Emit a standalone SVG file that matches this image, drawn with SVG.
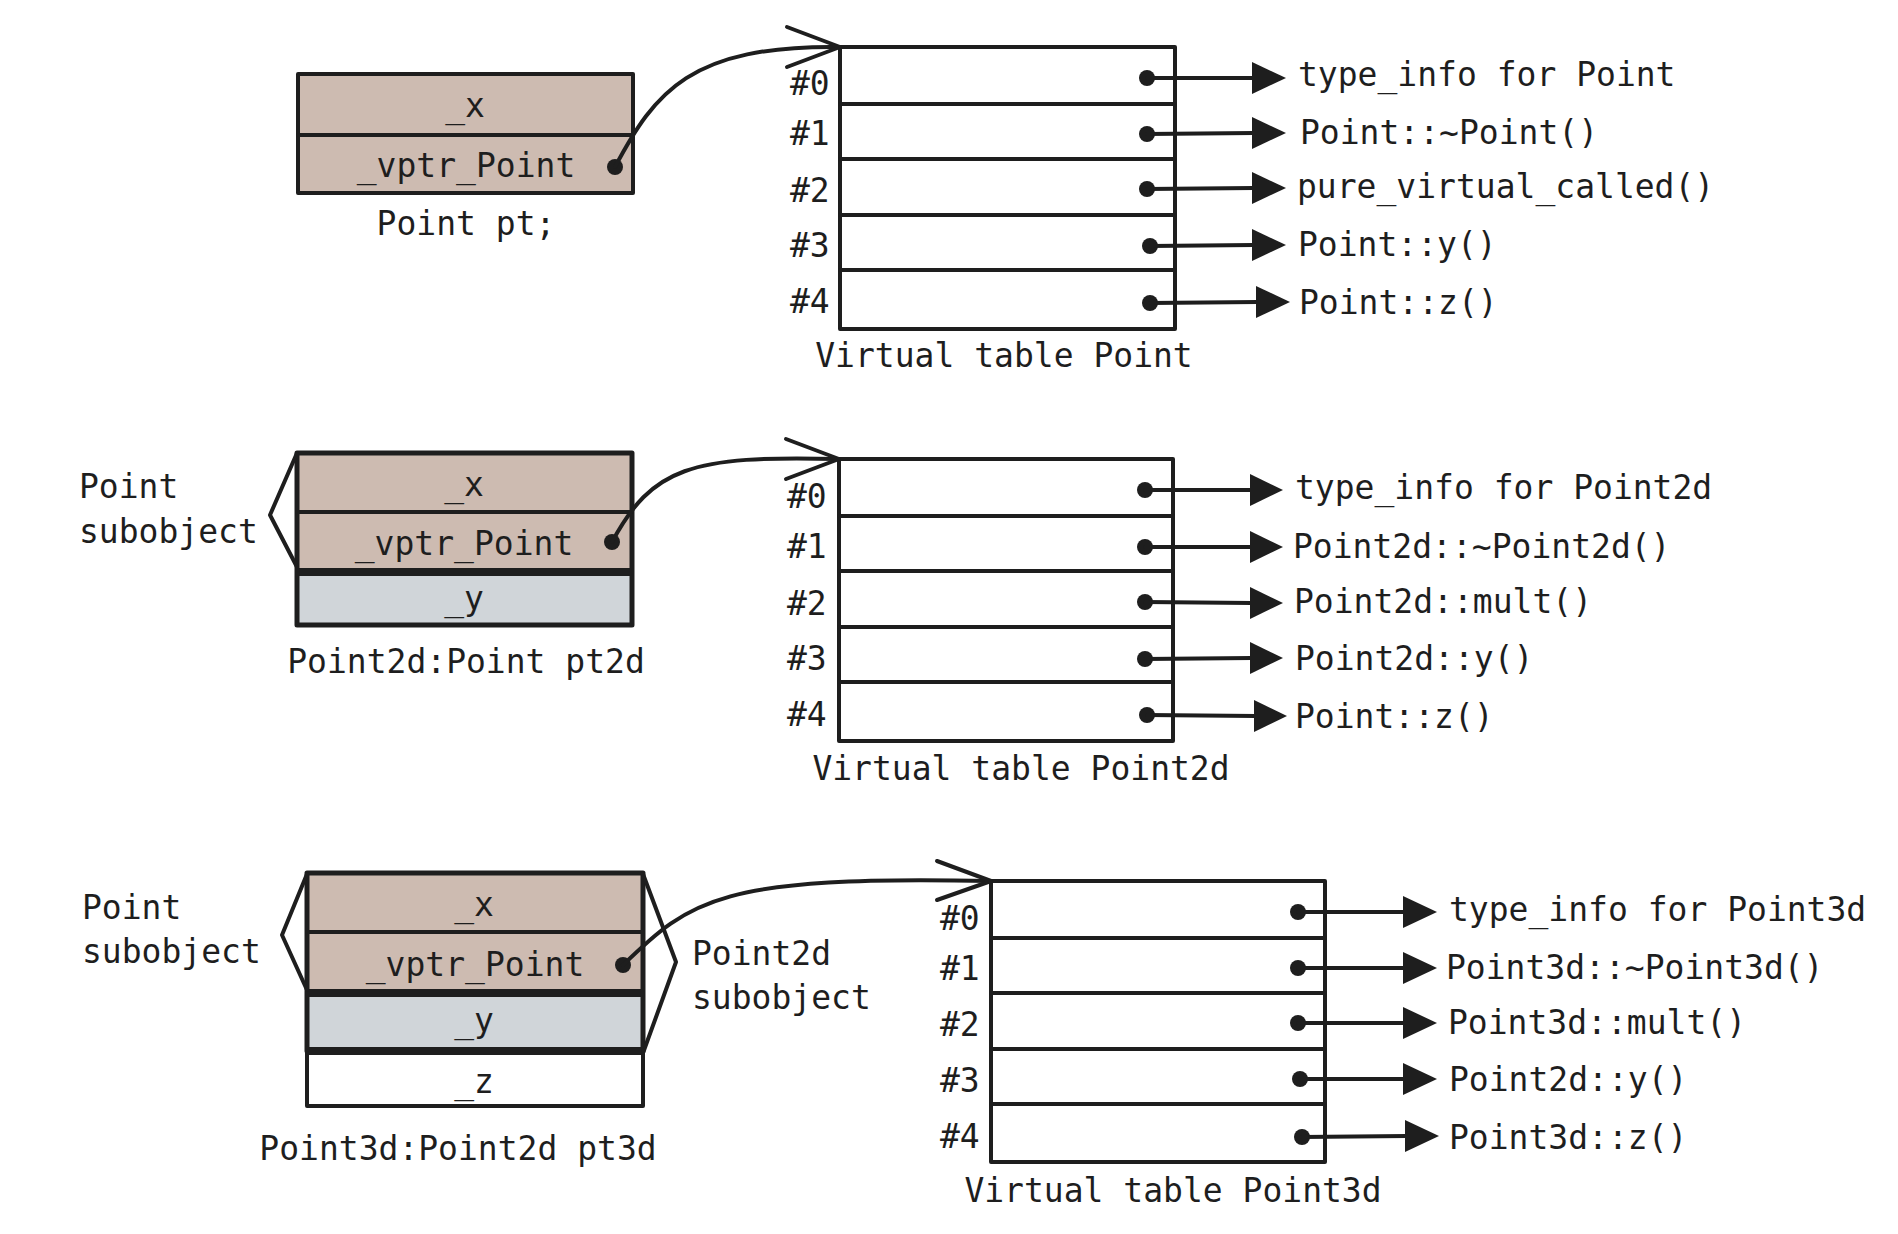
<svg xmlns="http://www.w3.org/2000/svg" width="1898" height="1234" viewBox="0 0 1898 1234">
<defs>
<style>
text{font-family:"DejaVu Sans Mono","Liberation Mono",monospace;font-size:33px;fill:#1e1e1e}
.c{text-anchor:middle}
.ln{stroke:#1e1e1e;stroke-width:4;fill:none;stroke-linecap:round;stroke-linejoin:round}
.thick{stroke:#1e1e1e;stroke-width:8;fill:none}
.br{fill:#cdbbb1}
.gr{fill:#d0d5d9}
.wh{fill:#ffffff}
.dot{fill:#1e1e1e}
.tri{fill:#1e1e1e}
</style>
</defs>
<rect width="1898" height="1234" fill="#ffffff"/>

<!-- Section 1 -->
<g id="obj-point">
<rect x="298" y="74" width="335" height="119" class="br"/>
<rect x="298" y="74" width="335" height="119" class="ln"/>
<line x1="298" y1="135" x2="633" y2="135" class="ln"/>
<text x="465" y="117" class="c">_x</text>
<text x="466" y="177" class="c">_vptr_Point</text>
<text x="466" y="235" class="c">Point pt;</text>
</g>
<g id="vtable-point">
<rect x="840" y="47" width="335" height="282" class="ln"/>
<line x1="840" y1="104" x2="1175" y2="104" class="ln"/>
<line x1="840" y1="159" x2="1175" y2="159" class="ln"/>
<line x1="840" y1="215" x2="1175" y2="215" class="ln"/>
<line x1="840" y1="270" x2="1175" y2="270" class="ln"/>
<text x="790" y="95">#0</text>
<text x="790" y="145">#1</text>
<text x="790" y="202">#2</text>
<text x="790" y="257">#3</text>
<text x="790" y="313">#4</text>
<text x="1004" y="367" class="c">Virtual table Point</text>
</g>
<g id="labels-point">
<text x="1298" y="86">type_info for Point</text>
<text x="1300" y="144">Point::~Point()</text>
<text x="1297" y="198">pure_virtual_called()</text>
<text x="1298" y="256">Point::y()</text>
<text x="1299" y="314">Point::z()</text>
</g>

<!-- Section 2 -->
<g id="obj-point2d">
<rect x="297" y="453" width="335" height="119" class="br"/>
<rect x="297" y="572" width="335" height="53" class="gr"/>
<rect x="297" y="453" width="335" height="172" class="ln" style="stroke-width:5"/>
<line x1="297" y1="512" x2="632" y2="512" class="ln"/>
<line x1="297" y1="572" x2="632" y2="572" class="thick"/>
<text x="464" y="496" class="c">_x</text>
<text x="464" y="555" class="c">_vptr_Point</text>
<text x="464" y="610" class="c">_y</text>
<text x="466" y="673" class="c">Point2d:Point pt2d</text>
</g>
<g id="brace-point-2">
<polyline points="297,453 270,515 297,567" class="ln"/>
<text x="79" y="498">Point</text>
<text x="79" y="543">subobject</text>
</g>
<g id="vtable-point2d">
<rect x="839" y="459" width="334" height="282" class="ln"/>
<line x1="839" y1="516" x2="1173" y2="516" class="ln"/>
<line x1="839" y1="571" x2="1173" y2="571" class="ln"/>
<line x1="839" y1="627" x2="1173" y2="627" class="ln"/>
<line x1="839" y1="682" x2="1173" y2="682" class="ln"/>
<text x="787" y="508">#0</text>
<text x="787" y="558">#1</text>
<text x="787" y="615">#2</text>
<text x="787" y="670">#3</text>
<text x="787" y="726">#4</text>
<text x="1021" y="780" class="c">Virtual table Point2d</text>
</g>
<g id="labels-point2d">
<text x="1295" y="499">type_info for Point2d</text>
<text x="1293" y="558">Point2d::~Point2d()</text>
<text x="1294" y="613">Point2d::mult()</text>
<text x="1295" y="670">Point2d::y()</text>
<text x="1295" y="728">Point::z()</text>
</g>

<!-- Section 3 -->
<g id="obj-point3d">
<rect x="307" y="873" width="336" height="120" class="br"/>
<rect x="307" y="993" width="336" height="58" class="gr"/>
<rect x="307" y="1051" width="336" height="55" class="wh"/>
<rect x="307" y="1051" width="336" height="55" class="ln"/>
<rect x="307" y="873" width="336" height="178" class="ln" style="stroke-width:5"/>
<line x1="307" y1="932" x2="643" y2="932" class="ln"/>
<line x1="307" y1="993" x2="643" y2="993" class="thick"/>
<line x1="307" y1="1051" x2="643" y2="1051" class="thick"/>
<text x="474" y="916" class="c">_x</text>
<text x="475" y="976" class="c">_vptr_Point</text>
<text x="474" y="1032" class="c">_y</text>
<text x="474" y="1093" class="c">_z</text>
<text x="458" y="1160" class="c">Point3d:Point2d pt3d</text>
</g>
<g id="brace-point-3">
<polyline points="307,874 282,935 307,990" class="ln"/>
<text x="82" y="919">Point</text>
<text x="82" y="963">subobject</text>
</g>
<g id="brace-point2d-3">
<polyline points="643,874 676,962 643,1053" class="ln"/>
<text x="692" y="965">Point2d</text>
<text x="692" y="1009">subobject</text>
</g>
<g id="vtable-point3d">
<rect x="991" y="881" width="334" height="281" class="ln"/>
<line x1="991" y1="938" x2="1325" y2="938" class="ln"/>
<line x1="991" y1="993" x2="1325" y2="993" class="ln"/>
<line x1="991" y1="1049" x2="1325" y2="1049" class="ln"/>
<line x1="991" y1="1104" x2="1325" y2="1104" class="ln"/>
<text x="940" y="930">#0</text>
<text x="940" y="980">#1</text>
<text x="940" y="1036">#2</text>
<text x="940" y="1092">#3</text>
<text x="940" y="1148">#4</text>
<text x="1173" y="1202" class="c">Virtual table Point3d</text>
</g>
<g id="labels-point3d">
<text x="1449" y="921">type_info for Point3d</text>
<text x="1446" y="979">Point3d::~Point3d()</text>
<text x="1448" y="1034">Point3d::mult()</text>
<text x="1449" y="1091">Point2d::y()</text>
<text x="1449" y="1149">Point3d::z()</text>
</g>

<g id="connectors">
<!-- vptr pointers -->
<circle cx="615" cy="167" r="8" class="dot"/>
<path d="M615,167 C655,92 690,45 840,47" class="ln"/>
<polyline points="787,27 840,47 787,67" class="ln"/>

<circle cx="612" cy="542" r="8" class="dot"/>
<path d="M612,542 C652,468 690,455 839,459" class="ln"/>
<polyline points="786,439 839,459 786,479" class="ln"/>

<circle cx="623" cy="965" r="8" class="dot"/>
<path d="M623,965 C690,900 720,875 991,881" class="ln"/>
<polyline points="937,861 991,881 937,900" class="ln"/>

<!-- vtable Point entries -->
<circle cx="1147" cy="78" r="8" class="dot"/><line x1="1147" y1="78" x2="1254" y2="78" class="ln"/><polygon points="1252,62 1286,78 1252,94" class="tri"/>
<circle cx="1147" cy="134" r="8" class="dot"/><line x1="1147" y1="134" x2="1254" y2="133" class="ln"/><polygon points="1252,117 1286,133 1252,149" class="tri"/>
<circle cx="1147" cy="189" r="8" class="dot"/><line x1="1147" y1="189" x2="1254" y2="188" class="ln"/><polygon points="1252,172 1286,188 1252,204" class="tri"/>
<circle cx="1150" cy="246" r="8" class="dot"/><line x1="1150" y1="246" x2="1254" y2="245" class="ln"/><polygon points="1252,229 1286,245 1252,261" class="tri"/>
<circle cx="1150" cy="303" r="8" class="dot"/><line x1="1150" y1="303" x2="1258" y2="302" class="ln"/><polygon points="1256,286 1290,302 1256,318" class="tri"/>

<!-- vtable Point2d entries -->
<circle cx="1145" cy="490" r="8" class="dot"/><line x1="1145" y1="490" x2="1252" y2="490" class="ln"/><polygon points="1250,474 1283,490 1250,506" class="tri"/>
<circle cx="1145" cy="547" r="8" class="dot"/><line x1="1145" y1="547" x2="1252" y2="547" class="ln"/><polygon points="1250,531 1283,547 1250,563" class="tri"/>
<circle cx="1145" cy="602" r="8" class="dot"/><line x1="1145" y1="602" x2="1252" y2="603" class="ln"/><polygon points="1250,587 1283,603 1250,619" class="tri"/>
<circle cx="1145" cy="659" r="8" class="dot"/><line x1="1145" y1="659" x2="1252" y2="658" class="ln"/><polygon points="1250,642 1283,658 1250,674" class="tri"/>
<circle cx="1147" cy="715" r="8" class="dot"/><line x1="1147" y1="715" x2="1256" y2="716" class="ln"/><polygon points="1254,700 1287,716 1254,732" class="tri"/>

<!-- vtable Point3d entries -->
<circle cx="1298" cy="912" r="8" class="dot"/><line x1="1298" y1="912" x2="1405" y2="912" class="ln"/><polygon points="1403,896 1437,912 1403,928" class="tri"/>
<circle cx="1298" cy="968" r="8" class="dot"/><line x1="1298" y1="968" x2="1405" y2="968" class="ln"/><polygon points="1403,952 1437,968 1403,984" class="tri"/>
<circle cx="1298" cy="1023" r="8" class="dot"/><line x1="1298" y1="1023" x2="1405" y2="1023" class="ln"/><polygon points="1403,1007 1437,1023 1403,1039" class="tri"/>
<circle cx="1300" cy="1079" r="8" class="dot"/><line x1="1300" y1="1079" x2="1405" y2="1079" class="ln"/><polygon points="1403,1063 1437,1079 1403,1095" class="tri"/>
<circle cx="1302" cy="1137" r="8" class="dot"/><line x1="1302" y1="1137" x2="1407" y2="1136" class="ln"/><polygon points="1405,1120 1439,1136 1405,1152" class="tri"/>
</g>
</svg>
